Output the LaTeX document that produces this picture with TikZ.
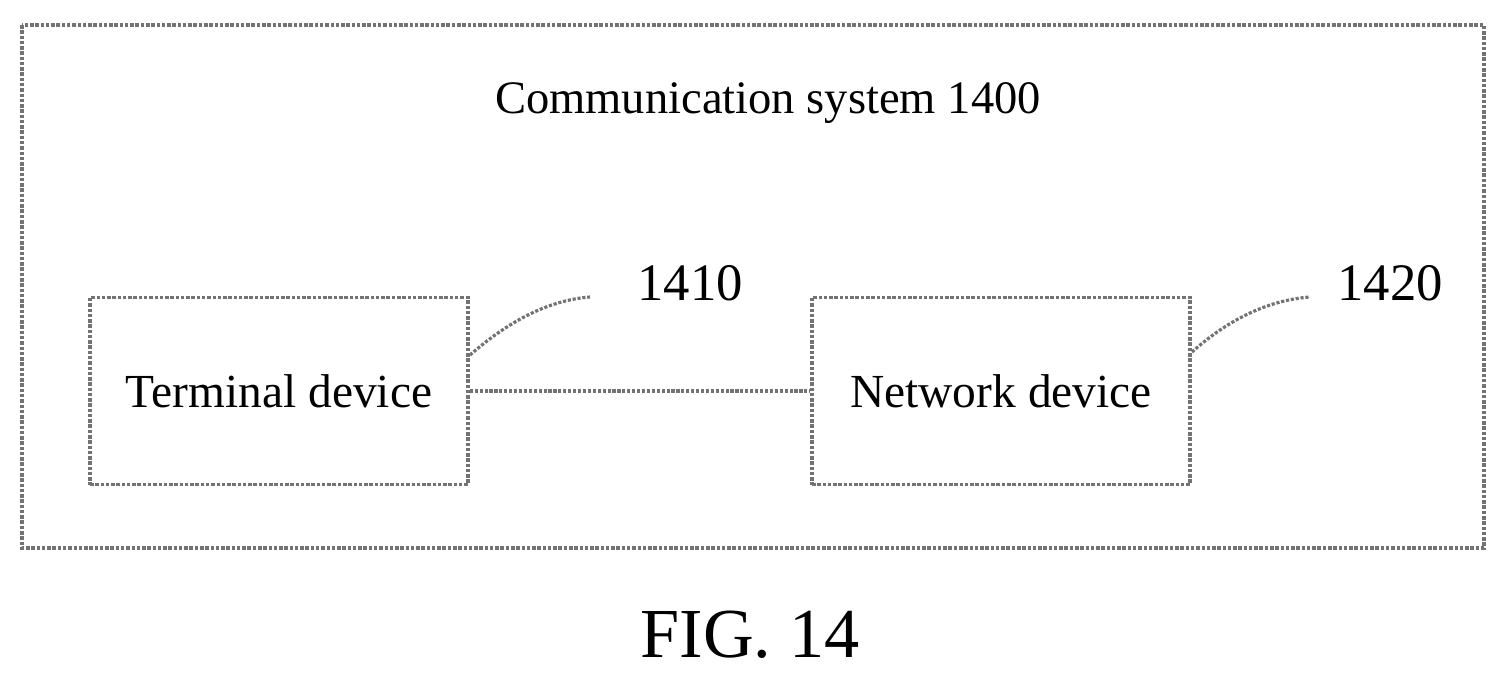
\documentclass[tikz,border=0pt]{standalone}
\usepackage{fontspec}
\setmainfont{Liberation Serif}
\begin{document}
\begin{tikzpicture}[x=0.02cm,y=-0.02cm,
    box/.style={draw=gray!90!black,line width=2pt,densely dotted},
    link/.style={draw=gray!90!black,line width=1.8pt,densely dotted}]
    \useasboundingbox (0,0) rectangle (1504,679);
    % system frame
    \draw[box] (22,25) rectangle (1484,548);
    \node (title) at (768,103) {\fontsize{26.5}{30}\selectfont Communication system 1400};

    % devices
    \node[box,minimum width=378*0.02cm,minimum height=187*0.02cm] (term) at (279,391) {\fontsize{27}{32}\selectfont Terminal device};
    \node[box,minimum width=378*0.02cm,minimum height=187*0.02cm] (net) at (1001,391) {\fontsize{27}{32}\selectfont Network device};
    \draw[link] (term) -- (net);

    % reference numbers
    \coordinate (t1) at (590,297);
    \coordinate (t2) at (1310,297);
    \node (n1410) at (690,283) {\fontsize{30}{34}\selectfont 1410};
    \node (n1420) at (1390,283) {\fontsize{30}{34}\selectfont 1420};
    \draw[link] (470,355) .. controls (510,320) and (550,300) .. (t1);
    \draw[link] (1192,352) .. controls (1230,318) and (1270,300) .. (t2);

    \node (fig) at (750,635) {\fontsize{40}{46}\selectfont FIG. 14};
\end{tikzpicture}
\end{document}
